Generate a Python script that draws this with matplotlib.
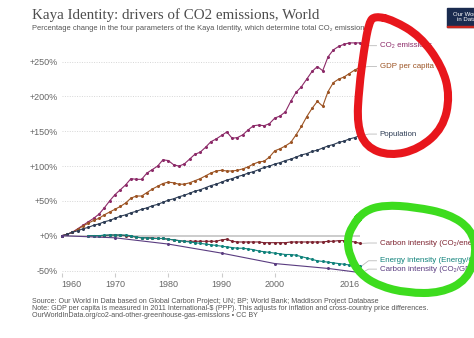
import matplotlib
matplotlib.use("Agg")
import matplotlib.pyplot as plt
import numpy as np
from matplotlib.path import Path
from matplotlib.patches import PathPatch, Rectangle

W, H = 474, 338

# ── Data (percentage change relative to first year) ─────────────
years = np.arange(1960, 2017)
co2_emissions = [
    0, 2, 5, 10, 15, 20, 25, 31, 40, 50,
    59, 66, 73, 82, 81, 81, 90, 95, 100, 109,
    108, 102, 100, 103, 110, 117, 120, 127, 135, 139,
    144, 149, 140, 141, 145, 152, 158, 159, 158, 161,
    169, 172, 178, 193, 206, 214, 225, 236, 243, 237,
    257, 267, 272, 275, 277, 277, 277,
]
gdp_per_capita = [
    0, 2, 5, 9, 14, 18, 22, 25, 30, 34,
    38, 42, 47, 54, 57, 57, 62, 67, 71, 75,
    77, 76, 74, 74, 76, 79, 82, 86, 90, 93,
    94, 93, 93, 94, 96, 99, 103, 106, 107, 113,
    122, 125, 129, 134, 145, 157, 171, 183, 193, 186,
    207, 220, 225, 228, 233, 238, 242,
]
population = [
    0, 2, 5, 7, 10, 12, 15, 17, 20, 22,
    25, 28, 30, 33, 35, 38, 40, 43, 45, 48,
    51, 53, 56, 58, 61, 64, 66, 69, 72, 74,
    77, 80, 82, 85, 87, 90, 92, 95, 98, 100,
    103, 105, 108, 110, 113, 116, 118, 121, 123, 126,
    129, 131, 134, 136, 139, 141, 144,
]
energy_years = np.arange(1965, 2017)
carbon_int_energy = [
    0, 0, 0, 0, 1,
    1, 1, 0, -1, -2, -3, -3, -3, -4, -4,
    -5, -6, -7, -8, -8, -8, -8, -8, -8, -8,
    -6, -5, -8, -9, -9, -9, -9, -9, -10, -10,
    -10, -10, -10, -9, -9, -9, -9, -9, -9, -9,
    -8, -8, -7, -7, -8, -9, -11,
]
energy_intensity = [
    0, 0, 0, 1, 1,
    1, 1, 1, 0, -2, -3, -3, -4, -4, -4,
    -5, -6, -7, -8, -9, -10, -11, -12, -13, -14,
    -15, -16, -17, -18, -18, -19, -20, -22, -23, -24,
    -25, -26, -27, -27, -28, -30, -32, -34, -36, -37,
    -38, -39, -40, -41, -42, -42, -43,
]
gdp_int_years = [1960, 1970, 1980, 1990, 2000, 2010, 2016]
carbon_int_gdp = [0, -3, -12, -25, -40, -47, -53]

series = [
    ("CO\u2082 emissions", years, co2_emissions, "#8c2a68"),
    ("GDP per capita", years, gdp_per_capita, "#9c5424"),
    ("Population", years, population, "#2e3d55"),
    ("Carbon intensity (CO\u2082/energy)", energy_years, carbon_int_energy, "#7e2431"),
    ("Energy intensity (Energy/GDP)", energy_years, energy_intensity, "#10827b"),
    ("Carbon intensity (CO\u2082/GDP)", gdp_int_years, carbon_int_gdp, "#5a3c80"),
]
# where each line label sits (in % units)
label_y = [273, 243, 146, -10.5, -36, -48]


def fx(x):
    return x / W


def fy(y):
    return 1 - y / H


plt.rcParams["font.family"] = ["Liberation Sans", "DejaVu Sans"]

fig = plt.figure(figsize=(W / 100, H / 100), dpi=100)
ax = fig.add_axes([fx(61.7), fy(273.3), (360 - 61.7) / W, (273.3 - 40.8) / H])
ax.set_xlim(1960, 2016)
ax.set_ylim(-54, 280)

# grid
yt = [-50, 0, 50, 100, 150, 200, 250]
ax.set_yticks(yt)
ax.set_yticklabels(["-50%", "+0%", "+50%", "+100%", "+150%", "+200%", "+250%"])
for v in yt:
    if v == 0:
        ax.axhline(0, color="#c8c8c8", lw=1.3, zorder=1)
    else:
        ax.axhline(v, color="#d6d6d6", lw=0.7, ls=(0, (1, 1.5)), zorder=1)

for sp in ax.spines.values():
    sp.set_visible(False)
ax.tick_params(axis="y", length=0, pad=3, labelsize=6.5, labelcolor="#666666")
xt = [1960, 1970, 1980, 1990, 2000, 2016]
ax.set_xticks(xt)
ax.set_xticklabels([str(x) for x in xt])
ax.tick_params(axis="x", length=3, color="#cccccc", pad=2, labelsize=6.5,
               labelcolor="#666666")
xl = ax.get_xticklabels()
xl[0].set_ha("left")
xl[-1].set_ha("right")

for (name, xs, vals, col), ly in zip(series, label_y):
    ax.plot(xs, vals, color=col, lw=0.8, marker="o", ms=1.2, zorder=3,
            clip_on=False)
    end = vals[-1]
    ax.plot([2016.4, 2017.6, 2019.1], [end, ly, ly], color="#bbbbbb", lw=0.6,
            clip_on=False)
    ax.text(2019.7, ly, name, color=col, fontsize=5.7, va="center", ha="left",
            clip_on=False)

# ── Header / footer ────────────────────────────────────────────
fig.text(fx(32), fy(15), "Kaya Identity: drivers of CO2 emissions, World",
         family=["Liberation Serif", "DejaVu Serif"], fontsize=10.8,
         color="#4d4d4d", va="center")
fig.text(fx(32), fy(29),
         "Percentage change in the four parameters of the Kaya Identity, "
         "which determine total CO\u2082 emissions.",
         fontsize=5.4, color="#555555", va="center")
footer = [
    "Source: Our World in Data based on Global Carbon Project; UN; BP; "
    "World Bank; Maddison Project Database",
    "Note: GDP per capita is measured in 2011 International-$ (PPP). This "
    "adjusts for inflation and cross-country price differences.",
    "OurWorldInData.org/co2-and-other-greenhouse-gas-emissions \u2022 CC BY",
]
for i, line in enumerate(footer):
    fig.text(fx(32), fy(301.5 + 7 * i), line, fontsize=5.1, color="#555555",
             va="center")

# logo
fig.add_artist(Rectangle((fx(447), fy(27)), 40 / W, 19 / H,
                         transform=fig.transFigure, color="#1a2b4f", zorder=5))
fig.add_artist(Rectangle((fx(447), fy(27)), 40 / W, 1.5 / H,
                         transform=fig.transFigure, color="#c8261e", zorder=6))
fig.text(fx(467), fy(17), "Our World\nin Data", color="white", fontsize=4.3,
         ha="center", va="center", linespacing=0.95, zorder=7)


# ── Hand-drawn highlight loops ─────────────────────────────────
def loop(points, color, lw):
    pts = np.array([(fx(x), fy(y)) for x, y in points])
    n = len(pts)
    verts = [(pts[0] + pts[1]) / 2]
    codes = [Path.MOVETO]
    for i in range(1, n + 1):
        p = pts[i % n]
        q = pts[(i + 1) % n]
        verts += [p, (p + q) / 2]
        codes += [Path.CURVE3, Path.CURVE3]
    patch = PathPatch(Path(verts, codes), transform=fig.transFigure,
                      facecolor="none", edgecolor=color, lw=lw, zorder=10,
                      capstyle="round", joinstyle="round")
    fig.add_artist(patch)


red_pts = [(375, 16), (393, 20), (420, 36), (442, 66), (450, 96), (443, 128),
           (419, 149), (390, 156), (366, 147), (357, 125), (359, 88),
           (364, 50), (369, 22)]
green_pts = [(352, 226), (364, 211), (384, 205), (415, 207), (449, 214),
             (471, 229), (477, 252), (467, 280), (441, 293), (407, 293),
             (379, 286), (360, 274), (350, 257), (347, 240)]
loop(red_pts, "#e8161c", 5.8)
loop(green_pts, "#3ddc1e", 5.8)

fig.savefig("out.png", dpi=100)
